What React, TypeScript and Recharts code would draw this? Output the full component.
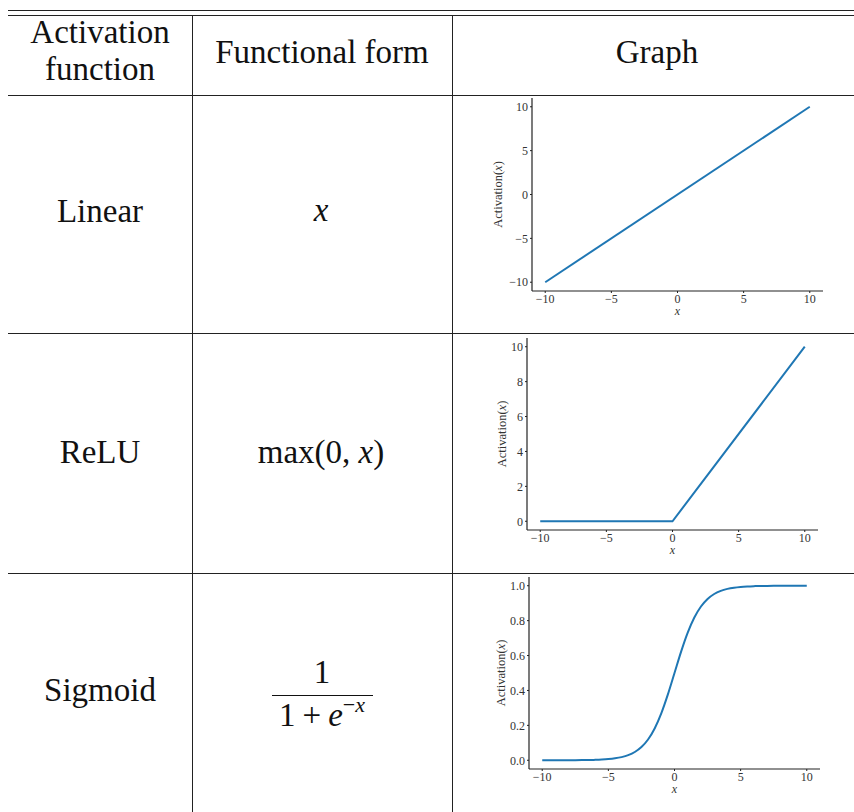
import React from 'react';
import { LineChart, Line, XAxis, YAxis } from 'recharts';

const SERIF = "'Liberation Serif', 'Times New Roman', serif";
const BLUE = '#1f77b4';

// shared x ticks for all three plots
const xTicks = [-10, -5, 0, 5, 10];

// Linear
const linearX = [-10, 10];
const linearY = [-10, 10];
const linearTicks = [-10, -5, 0, 5, 10];

// ReLU
const reluX = [-10, 0, 10];
const reluY = [0, 0, 10];
const reluTicks = [0, 2, 4, 6, 8, 10];

// Sigmoid
const sigmoidX = [
  -10, -9.5, -9, -8.5, -8, -7.5, -7, -6.5, -6, -5.5, -5, -4.5, -4, -3.5, -3, -2.5, -2, -1.5, -1, -0.5,
  0, 0.5, 1, 1.5, 2, 2.5, 3, 3.5, 4, 4.5, 5, 5.5, 6, 6.5, 7, 7.5, 8, 8.5, 9, 9.5, 10,
];
const sigmoidY = [
  0.0, 0.0001, 0.0001, 0.0002, 0.0003, 0.0006, 0.0009, 0.0015, 0.0025, 0.0041, 0.0067, 0.011, 0.018,
  0.0293, 0.0474, 0.0759, 0.1192, 0.1824, 0.2689, 0.3775, 0.5, 0.6225, 0.7311, 0.8176, 0.8808, 0.9241,
  0.9526, 0.9707, 0.982, 0.989, 0.9933, 0.9959, 0.9975, 0.9985, 0.9991, 0.9994, 0.9997, 0.9998, 0.9999,
  0.9999, 1.0,
];
const sigmoidTicks = [0, 0.2, 0.4, 0.6, 0.8, 1.0];

const fmtInt = (v: number) => (v < 0 ? '\u2212' + Math.abs(v) : String(v));
const fmtDec = (v: number) => v.toFixed(1);

type Box = { left: number; top: number; right: number; bottom: number };

const YW = 62;
const XH = 32;
const MT = 4;
const MR = 8;
const MB = 4;

function ActivationPlot(props: {
  xs: number[];
  ys: number[];
  yTicks: number[];
  yDomain: [number, number];
  yFmt: (v: number) => string;
  plot: Box;
  labelGap: number;
  curve: 'linear' | 'monotone';
}) {
  const { xs, ys, yTicks, yDomain, yFmt, plot, labelGap, curve } = props;
  const data = xs.map((x, i) => ({ x, y: ys[i] }));
  const pw = plot.right - plot.left;
  const ph = plot.bottom - plot.top;
  const w = pw + YW + MR;
  const h = ph + MT + XH + MB;

  const yLabel = () => {
    const cx = YW - labelGap;
    const cy = MT + ph / 2;
    return (
      <text
        x={cx}
        y={cy}
        transform={`rotate(-90 ${cx} ${cy})`}
        textAnchor="middle"
        dominantBaseline="central"
        fontFamily={SERIF}
        fontSize={12.5}
        fill="#333"
      >
        Activation(<tspan fontStyle="italic">x</tspan>)
      </text>
    );
  };

  const xLabel = () => (
    <text
      x={YW + pw / 2}
      y={MT + ph + 24}
      textAnchor="middle"
      fontFamily={SERIF}
      fontStyle="italic"
      fontSize={12}
      fill="#333"
    >
      x
    </text>
  );

  const axisStyle = { stroke: '#222', strokeWidth: 1.2 };
  const tickStyle = { fill: '#333', fontSize: 12, fontFamily: SERIF };

  return (
    <div style={{ position: 'absolute', left: plot.left - YW, top: plot.top - MT }}>
      <LineChart width={w} height={h} data={data} margin={{ top: MT, right: MR, left: 0, bottom: MB }}>
        <XAxis
          dataKey="x"
          type="number"
          domain={[-11, 11]}
          ticks={xTicks}
          allowDataOverflow
          height={XH}
          axisLine={axisStyle}
          tickLine={{ stroke: '#222' }}
          tickSize={2}
          tickMargin={1}
          tick={tickStyle}
          tickFormatter={fmtInt}
          label={{ content: xLabel }}
        />
        <YAxis
          type="number"
          domain={yDomain}
          ticks={yTicks}
          allowDataOverflow
          width={YW}
          axisLine={axisStyle}
          tickLine={{ stroke: '#222' }}
          tickSize={2}
          tickMargin={2}
          tick={tickStyle}
          tickFormatter={yFmt}
          label={{ content: yLabel }}
        />
        <Line
          dataKey="y"
          type={curve}
          stroke={BLUE}
          strokeWidth={2}
          dot={false}
          isAnimationActive={false}
        />
      </LineChart>
    </div>
  );
}

// text placed by its horizontal centre and baseline
function Txt(props: { cx: number; base: number; size?: number; italic?: boolean; children: React.ReactNode }) {
  const size = props.size ?? 33;
  return (
    <div
      style={{
        position: 'absolute',
        left: props.cx - 200,
        width: 400,
        top: props.base - 0.8375 * size,
        textAlign: 'center',
        fontSize: size,
        lineHeight: 1,
        fontStyle: props.italic ? 'italic' : 'normal',
        whiteSpace: 'nowrap',
      }}
    >
      {props.children}
    </div>
  );
}

const HLine = ({ y }: { y: number }) => (
  <div style={{ position: 'absolute', left: 8, width: 846, top: y, height: 1, background: '#222' }} />
);
const VLine = ({ x }: { x: number }) => (
  <div style={{ position: 'absolute', left: x, width: 1, top: 16, height: 796, background: '#222' }} />
);

export default function App() {
  return (
    <div
      style={{
        position: 'absolute',
        left: 0,
        top: 0,
        width: 854,
        height: 812,
        overflow: 'hidden',
        background: '#fff',
        fontFamily: SERIF,
        color: '#111',
      }}
    >
      <HLine y={10} />
      <HLine y={15} />
      <HLine y={95} />
      <HLine y={333} />
      <HLine y={573} />
      <VLine x={192} />
      <VLine x={452} />

      {/* header */}
      <Txt cx={100} base={44}>Activation</Txt>
      <Txt cx={100} base={81}>function</Txt>
      <Txt cx={322} base={64}>Functional form</Txt>
      <Txt cx={657} base={64}>Graph</Txt>

      {/* row labels */}
      <Txt cx={100} base={223}>Linear</Txt>
      <Txt cx={100} base={464}>ReLU</Txt>
      <Txt cx={100} base={702}>Sigmoid</Txt>

      {/* functional forms */}
      <Txt cx={321} base={222} italic>x</Txt>
      <Txt cx={321} base={464}>
        max(0, <i>x</i>)
      </Txt>
      <Txt cx={322} base={684}>1</Txt>
      <div style={{ position: 'absolute', left: 272, width: 101, top: 695, height: 1.4, background: '#111' }} />
      <Txt cx={322} base={727}>
        1<span style={{ margin: '0 7px' }}>+</span>
        <i>e</i>
        <span style={{ fontSize: 22, position: 'relative', top: -14 }}>
          {'\u2212'}
          <i>x</i>
        </span>
      </Txt>

      {/* graphs */}
      <ActivationPlot
        xs={linearX}
        ys={linearY}
        yTicks={linearTicks}
        yDomain={[-11, 11]}
        yFmt={fmtInt}
        plot={{ left: 532, top: 98, right: 823, bottom: 291 }}
        labelGap={34}
        curve="linear"
      />
      <ActivationPlot
        xs={reluX}
        ys={reluY}
        yTicks={reluTicks}
        yDomain={[-0.5, 10.5]}
        yFmt={fmtInt}
        plot={{ left: 527, top: 338, right: 818, bottom: 530 }}
        labelGap={25}
        curve="linear"
      />
      <ActivationPlot
        xs={sigmoidX}
        ys={sigmoidY}
        yTicks={sigmoidTicks}
        yDomain={[-0.05, 1.05]}
        yFmt={fmtDec}
        plot={{ left: 529, top: 577, right: 820, bottom: 769 }}
        labelGap={28}
        curve="monotone"
      />
    </div>
  );
}
